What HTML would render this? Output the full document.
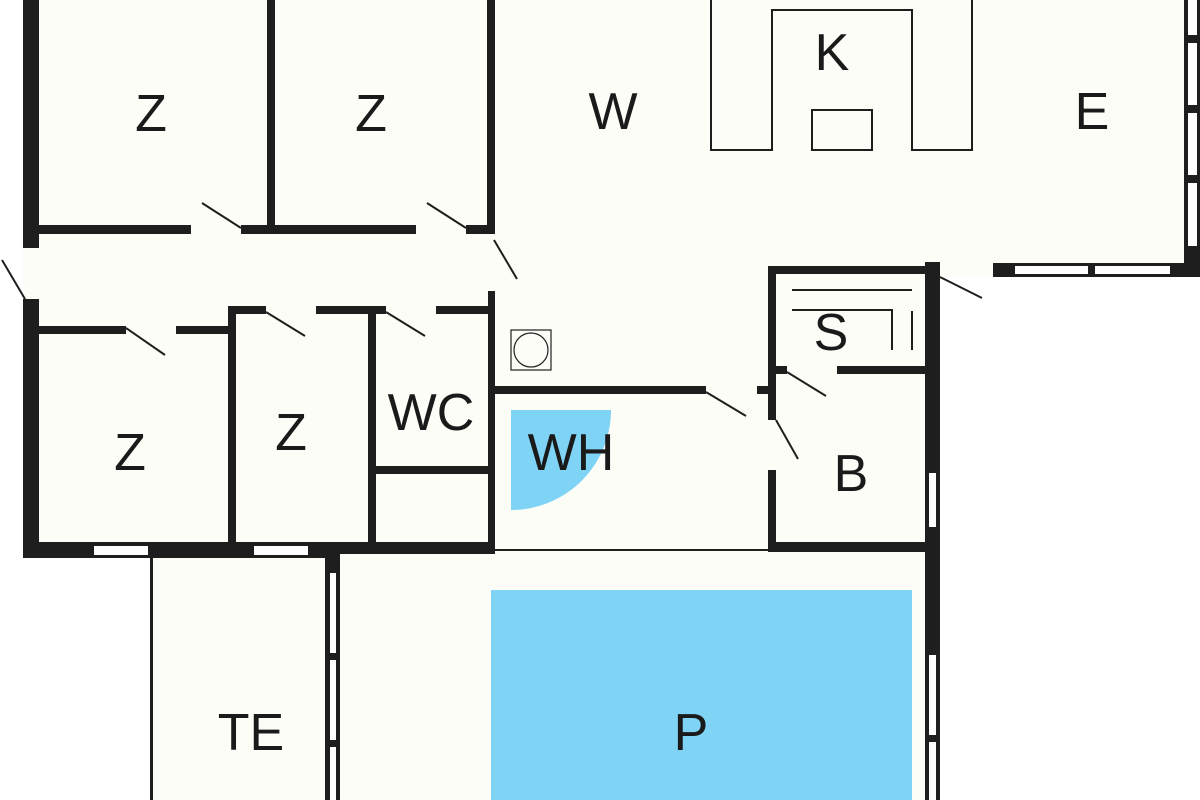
<!DOCTYPE html>
<html><head><meta charset="utf-8"><style>
html,body{margin:0;padding:0;background:#fff;}
svg{display:block;}
text{font-family:"Liberation Sans",Arial,sans-serif;font-size:52px;fill:#1a1a1a;text-anchor:middle;}
</style></head><body>
<svg width="1200" height="800" viewBox="0 0 1200 800" xmlns="http://www.w3.org/2000/svg">
<rect width="1200" height="800" fill="#fff"/>
<!-- floor fill -->
<g fill="#fdfdf8">
<rect x="23" y="0" width="1177" height="277"/>
<rect x="23" y="277" width="917" height="281"/>
<rect x="150" y="554" width="790" height="246"/>
</g>
<rect x="940" y="277" width="260" height="523" fill="#fff"/>
<rect x="0" y="558" width="150" height="242" fill="#fff"/>
<g fill="#1e1e1e">
<!-- left outer wall -->
<rect x="23" y="0" width="16" height="248"/>
<rect x="23" y="299" width="16" height="259"/>
<!-- Z divider -->
<rect x="267" y="0" width="8" height="234"/>
<!-- Z2 right wall -->
<rect x="487" y="0" width="8" height="234"/>
<rect x="488" y="291" width="7" height="263"/>
<!-- horizontal wall under top Zs -->
<rect x="39" y="225" width="152" height="9"/>
<rect x="241" y="225" width="175" height="9"/>
<rect x="466" y="225" width="29" height="9"/>
<!-- corridor bottom walls -->
<rect x="39" y="326" width="87" height="8"/>
<rect x="176" y="326" width="60" height="8"/>
<rect x="228" y="306" width="38" height="8"/>
<rect x="316" y="306" width="70" height="8"/>
<rect x="436" y="306" width="59" height="8"/>
<rect x="228" y="306" width="8" height="240"/>
<rect x="368" y="314" width="8" height="232"/>
<rect x="376" y="466" width="112" height="8"/>
<!-- bottom wall -->
<rect x="23" y="542" width="315" height="16"/>
<rect x="338" y="542" width="157" height="12"/>
<!-- TE right wall -->
<rect x="325" y="554" width="15" height="246"/>
<rect x="150" y="558" width="3" height="242"/>
<!-- WH top wall -->
<rect x="495" y="386" width="211" height="8"/>
<rect x="757" y="386" width="11" height="8"/>
<rect x="495" y="549" width="275" height="2"/>
<!-- B/S walls -->
<rect x="768" y="266" width="8" height="154"/>
<rect x="768" y="470" width="8" height="82"/>
<rect x="768" y="266" width="160" height="8"/>
<rect x="776" y="366" width="11" height="8"/>
<rect x="837" y="366" width="90" height="8"/>
<rect x="770" y="542" width="160" height="10"/>
<rect x="925" y="262" width="15" height="538"/>
<!-- E walls -->
<rect x="1184" y="0" width="16" height="277"/>
<rect x="993" y="263" width="207" height="14"/>
</g>
<!-- windows -->
<g fill="#fff">
<rect x="94" y="546" width="54" height="9"/>
<rect x="254" y="546" width="54" height="9"/>
<rect x="330" y="573" width="6" height="80"/>
<rect x="330" y="660" width="6" height="80"/>
<rect x="330" y="747" width="6" height="53"/>
<rect x="929" y="473" width="7" height="54"/>
<rect x="929" y="655" width="7" height="80"/>
<rect x="929" y="742" width="7" height="58"/>
<rect x="1188" y="0" width="9" height="35"/>
<rect x="1188" y="43" width="9" height="62"/>
<rect x="1188" y="113" width="9" height="62"/>
<rect x="1188" y="183" width="9" height="63"/>
<rect x="1015" y="266" width="73" height="8"/>
<rect x="1095" y="266" width="75" height="8"/>
</g>
<!-- pool & WH -->
<rect x="491" y="590" width="421" height="210" fill="#7fd4f5"/>
<path d="M511 410 H611 A100 100 0 0 1 511 510 Z" fill="#7fd4f5"/>
<!-- door swings -->
<g stroke="#1e1e1e" stroke-width="2" fill="none">
<line x1="202" y1="203" x2="241" y2="228"/>
<line x1="427" y1="203" x2="466" y2="228"/>
<line x1="2" y1="260" x2="25" y2="299"/>
<line x1="494" y1="240" x2="517" y2="279"/>
<line x1="126" y1="328" x2="165" y2="355"/>
<line x1="266" y1="312" x2="305" y2="336"/>
<line x1="386" y1="312" x2="425" y2="336"/>
<line x1="706" y1="392" x2="746" y2="416"/>
<line x1="776" y1="420" x2="798" y2="459"/>
<line x1="787" y1="372" x2="826" y2="396"/>
<line x1="940" y1="277" x2="982" y2="298"/>
<!-- kitchen -->
<polyline points="711,0 711,150 772,150 772,10 912,10 912,150 972,150 972,0"/>
<rect x="812" y="110" width="60" height="40"/>
<!-- sauna benches -->
<line x1="792" y1="290" x2="912" y2="290"/>
<polyline points="792,310 892,310 892,350"/>
<line x1="912" y1="311" x2="912" y2="350"/>
</g>
<g stroke="#1e1e1e" stroke-width="1.2" fill="none">
<rect x="511" y="330" width="40" height="40"/>
<circle cx="531" cy="350" r="17"/>
</g>
<!-- labels -->
<text x="151" y="131">Z</text>
<text x="371" y="131">Z</text>
<text x="130" y="470">Z</text>
<text x="291" y="450">Z</text>
<text x="431" y="430">WC</text>
<text x="613" y="129">W</text>
<text x="832" y="70">K</text>
<text x="1092" y="129">E</text>
<text x="831" y="350">S</text>
<text x="851" y="491">B</text>
<text x="571" y="470">WH</text>
<text x="251" y="750">TE</text>
<text x="691" y="750">P</text>
</svg>
</body></html>
